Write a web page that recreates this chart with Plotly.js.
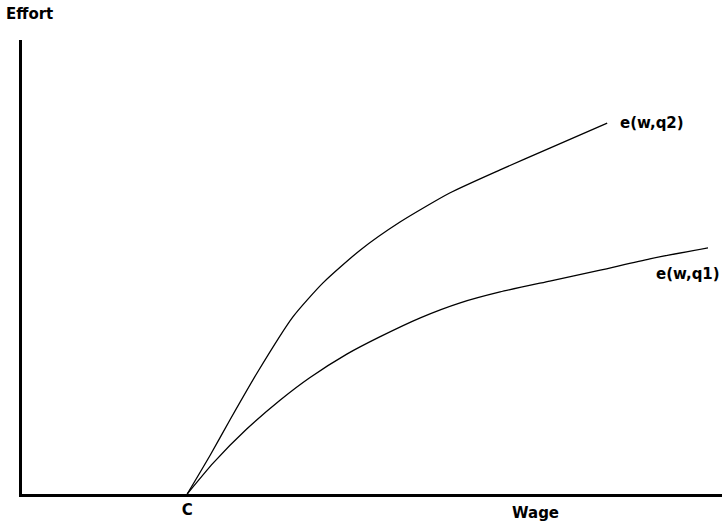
<!DOCTYPE html>
<html>
<head>
<meta charset="utf-8">
<script src="https://cdn.plot.ly/plotly-3.0.1.min.js"></script>
<style>html,body{margin:0;padding:0;background:#fff;}#chart{width:722px;height:527px;}</style>
</head>
<body>
<div id="chart"></div>
<script>
// Wage (x) and effort (y) values (axis units 0–100)
const wageQ2   = [23.6, 26.9, 29.7, 33.6, 38.7, 43.0, 48.3, 54.0, 61.1, 68.3, 75.4, 83.6];
const effortQ2 = [0,    8.6,  16.3, 26.7, 39.0, 46.5, 53.7, 59.9, 66.3, 71.4, 76.2, 81.7];
const wageQ1   = [23.6, 27.3, 32.1, 36.9, 41.1, 46.4, 51.1, 56.9, 62.6, 68.3, 75.4, 82.6, 89.7, 98.0];
const effortQ1 = [0,    6.8,  14.3, 20.7, 25.6, 30.8, 34.6, 38.8, 42.1, 44.5, 46.9, 49.3, 51.8, 54.2];
const cWage = [23.6];
const cLabel = ["C"];
const seriesNames = ["e(w,q2)", "e(w,q1)"];

const font = {family: "DejaVu Sans", size: 15, color: "#000"};
const lineStyle = {color: "#000", width: 1.3, shape: "spline", smoothing: 0.6};

const traces = [
  {x: wageQ2, y: effortQ2, mode: "lines", line: lineStyle, name: seriesNames[0], hoverinfo: "skip"},
  {x: wageQ1, y: effortQ1, mode: "lines", line: lineStyle, name: seriesNames[1], hoverinfo: "skip"}
];

const layout = {
  width: 722, height: 527,
  margin: {l: 22, r: 0, t: 40, b: 33},
  paper_bgcolor: "#fff", plot_bgcolor: "#fff",
  showlegend: false,
  font: font,
  xaxis: {
    range: [0, 100], showgrid: false, zeroline: false,
    showline: true, linecolor: "#000", linewidth: 3,
    tickvals: cWage, ticktext: cLabel.map(t => "<b>" + t + "</b>"),
    ticks: "", tickfont: font, fixedrange: true
  },
  yaxis: {
    range: [0, 100], showgrid: false, zeroline: false,
    showline: true, linecolor: "#000", linewidth: 3,
    showticklabels: false, ticks: "", fixedrange: true
  },
  annotations: [
    {text: "<b>Effort</b>", xref: "paper", yref: "paper", x: 0.01, y: 1.057, xanchor: "center", yanchor: "middle", showarrow: false, font: font},
    {text: "<b>Wage</b>", xref: "paper", yref: "paper", x: 0.733, y: -0.042, xanchor: "center", yanchor: "middle", showarrow: false, font: font},
    {text: "<b>" + seriesNames[0] + "</b>", xref: "paper", yref: "paper", x: 0.90, y: 0.817, xanchor: "center", yanchor: "middle", showarrow: false, font: font},
    {text: "<b>" + seriesNames[1] + "</b>", xref: "paper", yref: "paper", x: 0.951, y: 0.485, xanchor: "center", yanchor: "middle", showarrow: false, font: font}
  ]
};

Plotly.newPlot("chart", traces, layout, {displayModeBar: false, staticPlot: true});
</script>
</body>
</html>
